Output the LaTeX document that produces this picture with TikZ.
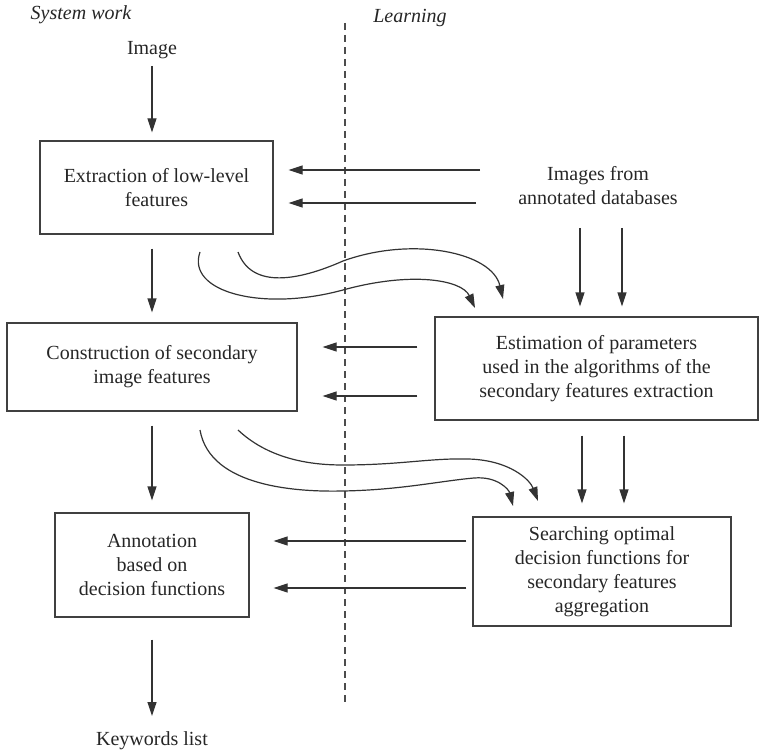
\documentclass[tikz,border=0pt]{standalone}
\usepackage{fontspec}
\setmainfont{Liberation Serif}
\usetikzlibrary{arrows.meta}
\begin{document}
\begin{tikzpicture}[x=1pt,y=-1pt,
  every node/.style={font=\fontsize{20}{24}\selectfont, text=black!85, inner sep=0pt},
  boxnode/.style={draw=black!75, line width=1.2pt, align=center, minimum width=#1},
  arr/.style={draw=black!80, line width=1.2pt, -{Triangle[length=14pt,width=9pt]}},
  divider/.style={draw=black!70, line width=1.1pt, dash pattern=on 7pt off 5pt}
]
\useasboundingbox (0,0) rectangle (763,754);
% headings
\node[font=\fontsize{20}{24}\selectfont\itshape] (sys) at (81,15) {System work};
\node[font=\fontsize{20}{24}\selectfont\itshape] (learn) at (410,18) {Learning};
% divider
\coordinate (dtop) at (345,23);
\coordinate (dbot) at (345,706);
\draw[divider] (dtop) -- (dbot);
% texts
\node (img) at (152,50) {Image};
\node[align=center] (db) at (598,186) {Images from\\annotated databases};
\node (kw) at (152,741) {Keywords list};
% boxes
\node[boxnode=233pt, minimum height=93pt] (b1) at (156.5,187.5) {Extraction of low-level\\features};
\node[boxnode=290pt, minimum height=88pt] (b2) at (152,367) {Construction of secondary\\image features};
\node[boxnode=323pt, minimum height=103pt] (b3) at (596.5,368.5) {Estimation of parameters\\used in the algorithms of the\\secondary features extraction};
\node[boxnode=194pt, minimum height=104pt] (b4) at (152,565) {Annotation\\based on\\decision functions};
\node[boxnode=258pt, minimum height=109pt] (b5) at (602,571.5) {Searching optimal\\decision functions for\\secondary features\\aggregation};
% vertical arrows, left column
\coordinate (lx) at (152,0);
\draw[arr, shorten <=7pt, shorten >=8pt] (img.south -| lx) -- (b1.north -| lx);
\draw[arr, shorten <=14pt, shorten >=10pt] (b1.south -| lx) -- (b2.north -| lx);
\draw[arr, shorten <=14pt, shorten >=12pt] (b2.south) -- (b4.north);
\coordinate (kwtop) at (152,716);
\draw[arr, shorten <=22pt] (b4.south) -- (kwtop);
% horizontal arrows to box 1
\coordinate (t1a) at (480,170);
\coordinate (t1b) at (476,203);
\draw[arr, shorten >=15pt] (t1a) -- (b1.east |- t1a);
\draw[arr, shorten >=15pt] (t1b) -- (b1.east |- t1b);
% databases down to box 3
\coordinate (d1) at (580,228);
\coordinate (d2) at (622,228);
\draw[arr, shorten >=10pt] (d1) -- (d1 |- b3.north);
\draw[arr, shorten >=10pt] (d2) -- (d2 |- b3.north);
% box 3 to box 2
\coordinate (h1) at (0,347);
\coordinate (h2) at (0,396);
\draw[arr, shorten <=17pt, shorten >=25pt] (b3.west |- h1) -- (b2.east |- h1);
\draw[arr, shorten <=17pt, shorten >=25pt] (b3.west |- h2) -- (b2.east |- h2);
% box 3 down to box 5
\coordinate (e1) at (582,0);
\coordinate (e2) at (624,0);
\draw[arr, shorten <=15pt, shorten >=13pt] (b3.south -| e1) -- (b5.north -| e1);
\draw[arr, shorten <=15pt, shorten >=13pt] (b3.south -| e2) -- (b5.north -| e2);
% box 5 to box 4
\coordinate (g1) at (0,541);
\coordinate (g2) at (0,588);
\draw[arr, shorten <=6pt, shorten >=24pt] (b5.west |- g1) -- (b4.east |- g1);
\draw[arr, shorten <=6pt, shorten >=24pt] (b5.west |- g2) -- (b4.east |- g2);
% curved arrows, upper pair
\coordinate (ca1) at (200,252);
\coordinate (ca2) at (475,308);
\coordinate (cb1) at (238,252);
\coordinate (cb2) at (503,299);
\draw[arr] (ca1) .. controls (186,292) and (262,312) .. (343,290)
  .. controls (412,271) and (462,280) .. (ca2);
\draw[arr] (cb1) .. controls (252,290) and (300,280) .. (343,261)
  .. controls (412,236) and (492,252) .. (cb2);
% curved arrows, lower pair
\coordinate (cc1) at (200,430);
\coordinate (cc2) at (513,506);
\coordinate (cd1) at (238,430);
\coordinate (cd2) at (538,501);
\draw[arr] (cc1) .. controls (210,488) and (300,492) .. (343,491)
  .. controls (400,490) and (440,481) .. (474,478)
  .. controls (498,476) and (509,490) .. (cc2);
\draw[arr] (cd1) .. controls (272,462) and (318,465) .. (343,465)
  .. controls (400,465) and (430,458) .. (468,459)
  .. controls (510,460) and (530,480) .. (cd2);
\end{tikzpicture}
\end{document}
